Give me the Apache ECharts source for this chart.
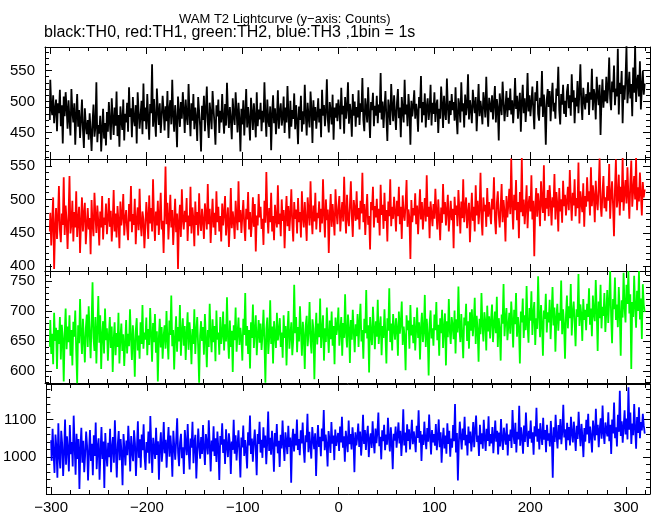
<!DOCTYPE html>
<html><head><meta charset="utf-8">
<script src="https://cdn.jsdelivr.net/npm/echarts@6/dist/echarts.min.js"></script>
<style>html,body{margin:0;padding:0;background:#fff}#c{width:652px;height:515px}</style>
</head><body><div id="c"></div>
<script>
// ---- data (1 bin = 1 s, first bin at t = -300 s) ----
const xStart = -300;
const titleText = "WAM T2 Lightcurve (y\u2212axis: Counts)";
const subText = "black:TH0, red:TH1, green:TH2, blue:TH3 ,1bin = 1s";
const seriesNames = ["TH0", "TH1", "TH2", "TH3"];
const th0 = [
470,535,492,478,510,465,488,503,452,497,481,519,460,494,432,508,476,515,489,456,
502,471,445,520,483,466,497,430,478,512,459,486,441,470,503,455,425,489,462,447,
470,438,481,452,420,466,495,443,459,531,434,462,448,477,419,456,488,440,465,429,
483,451,499,467,438,505,472,446,490,461,516,444,478,427,492,469,454,503,437,480,
466,498,451,523,475,489,442,507,471,460,494,432,515,483,456,478,501,447,529,468,
490,455,512,473,438,496,481,560,459,504,470,443,521,486,462,497,449,475,509,484,
453,492,468,517,441,488,502,463,535,477,451,494,470,426,508,483,459,499,472,515,
487,449,503,476,462,528,481,444,497,469,512,455,490,473,436,507,484,461,419,493,
470,509,452,486,524,467,441,498,479,455,517,488,463,430,494,476,503,449,485,466,
512,473,448,496,461,530,482,457,491,470,439,505,477,462,515,484,450,498,471,419,
488,463,502,445,479,520,458,491,469,437,506,482,454,497,473,442,515,460,487,471,
498,452,485,466,531,477,443,503,470,459,492,421,480,510,465,489,447,474,518,456,
483,497,461,474,508,449,490,466,525,478,440,501,459,486,472,513,455,494,468,431,
492,470,509,451,484,463,527,480,445,498,474,458,516,487,433,502,469,491,456,479,
505,466,488,442,519,477,494,460,483,536,471,450,499,485,463,511,438,490,474,497,
468,503,486,455,522,479,493,448,507,472,489,531,464,496,481,443,512,477,500,459,
491,474,518,462,497,483,538,470,452,505,488,466,523,479,441,499,486,514,460,493,
477,509,465,495,482,546,471,500,457,489,517,474,436,503,486,462,528,492,468,510,
481,454,498,520,473,490,442,507,485,466,535,479,495,460,512,487,430,501,476,493,
518,472,496,483,451,507,489,541,466,499,478,513,458,492,505,470,487,527,461,498,
480,515,467,494,503,449,488,472,524,496,457,509,483,470,537,491,464,501,478,512,
486,499,469,523,475,447,505,492,466,531,484,497,458,511,478,493,544,471,502,488,
465,519,496,481,507,452,490,528,476,501,486,463,515,497,474,540,489,459,506,492,
483,510,471,498,525,466,504,489,437,513,494,478,532,500,468,491,517,475,506,486,
521,479,502,465,494,538,488,509,472,496,514,451,499,527,481,505,467,493,546,484,
510,476,498,524,487,455,515,501,533,480,469,506,492,549,475,511,488,430,503,520,
491,517,468,505,530,484,498,472,521,509,556,486,463,512,495,527,480,501,475,516,
528,489,510,477,544,499,518,465,506,492,533,481,515,560,496,470,522,503,487,512,
498,531,478,515,503,553,486,520,509,471,540,512,494,527,446,505,536,490,518,500,
540,497,523,571,505,486,532,515,558,494,521,508,585,479,530,512,549,465,526,503,
536,589,497,520,548,505,528,476,555,514,590,499,531,543,508,565,487,524,550,511,
529];
const th1 = [
452,480,431,468,503,396,458,487,441,472,520,455,436,479,462,533,447,491,468,426,
474,535,449,463,498,437,481,458,512,444,470,489,420,466,503,452,478,495,433,461,
487,455,472,418,499,463,445,510,476,450,491,467,431,482,458,505,440,473,462,494,
448,470,502,459,483,437,466,514,452,479,443,490,468,427,497,461,475,508,446,471,
484,456,439,493,467,520,451,478,462,501,433,470,488,454,516,465,445,482,470,427,
459,496,473,441,506,464,487,452,530,471,438,482,461,498,447,475,510,455,468,420,
478,549,463,495,440,472,507,458,484,432,466,501,451,479,396,468,492,444,515,470,
455,483,466,502,438,476,460,519,449,488,471,430,497,462,481,446,509,467,453,486,
468,441,494,477,455,523,463,486,435,470,501,458,480,447,512,466,489,452,475,437,
494,461,479,505,446,470,488,429,463,517,457,482,468,441,498,472,454,527,466,484,
450,475,499,462,438,486,470,511,455,481,444,467,503,459,493,422,476,461,508,473,
489,456,471,432,498,465,541,478,449,487,466,510,452,475,439,492,470,458,521,463,
479,445,500,468,484,427,473,505,460,490,453,478,515,464,437,496,471,485,449,502,
466,481,443,512,474,458,496,469,438,503,482,461,527,475,448,491,467,510,455,480,
472,497,451,486,464,530,478,443,500,469,485,420,476,508,459,493,471,446,515,482,
463,489,505,452,478,496,467,534,481,449,507,472,460,491,527,475,444,499,485,468,
512,470,487,455,498,479,540,466,493,447,481,508,462,475,425,496,484,519,458,490,
473,501,465,486,446,522,477,492,456,510,468,484,437,497,475,530,460,489,471,504,
482,452,498,475,519,463,489,441,506,478,468,494,529,459,485,472,411,499,466,487,
476,509,463,491,448,483,515,470,496,455,481,502,467,536,474,489,442,497,479,460,
493,471,516,482,455,500,474,439,488,465,523,478,496,461,484,507,452,475,498,469,
486,427,504,477,491,460,514,483,449,497,472,530,466,488,503,457,480,495,436,475,
510,468,489,452,521,476,498,463,485,540,471,446,503,482,492,459,517,474,496,480,
463,501,485,533,470,448,494,512,477,458,489,523,466,499,481,437,505,473,492,516,
478,561,490,455,507,484,529,469,496,442,511,481,562,475,500,463,488,521,457,493,
505,482,536,470,498,415,489,517,474,509,491,460,527,495,480,551,468,502,486,514,
475,521,496,461,503,488,538,470,511,493,452,517,482,500,465,528,490,507,476,497,
519,484,544,500,468,510,491,530,475,502,487,555,464,512,496,481,524,459,505,489,
533,497,512,476,548,490,521,505,466,528,499,484,516,561,493,474,509,535,487,503,
482,520,498,553,471,507,527,492,445,515,560,488,502,537,476,519,496,562,483,511,
529,494,548,506,471,523,558,489,513,535,500,562,484,518,497,540,509,476,526,503,
515];
const th2 = [
640,685,628,662,611,697,650,672,603,668,645,690,619,677,655,582,661,704,636,674,
648,693,625,668,609,682,657,701,633,579,676,646,720,661,628,687,652,614,671,694,
640,708,664,621,679,748,655,633,690,612,668,725,647,693,603,660,683,629,704,651,
671,617,659,690,638,674,598,652,681,626,663,640,697,612,655,679,633,661,608,646,
685,629,662,641,703,655,618,676,649,590,667,688,634,659,620,681,645,710,637,664,
652,689,626,670,643,705,661,615,680,648,695,630,666,582,654,687,639,673,620,658,
676,637,700,652,619,684,660,726,641,668,602,655,691,632,673,649,710,625,664,688,
642,675,618,662,698,635,681,657,611,670,645,703,628,666,690,639,580,659,683,650,
673,627,695,654,606,668,640,712,660,631,686,648,675,616,701,652,664,627,690,645,
661,699,634,678,649,723,656,620,684,640,667,598,676,651,706,632,662,689,643,672,
654,617,687,660,730,642,675,628,668,604,681,655,711,638,667,693,626,659,685,647,
679,635,661,702,649,580,670,689,628,656,718,645,674,612,683,660,638,697,651,666,
688,640,664,622,693,655,675,609,668,700,637,660,681,626,652,744,663,690,631,673,
649,708,667,625,682,658,603,676,692,641,664,715,650,629,686,670,586,661,697,644,
679,656,721,638,668,693,617,671,648,706,662,630,684,653,699,642,675,611,689,660,
673,706,642,667,690,625,680,655,728,663,639,694,671,613,685,652,702,666,631,678,
658,695,640,681,712,649,668,620,687,663,735,654,676,597,690,661,643,707,672,636,
683,657,719,645,670,691,626,675,655,703,660,612,688,667,738,648,679,634,695,669,
652,688,671,625,699,662,680,716,643,674,656,601,693,668,684,637,710,659,677,646,
690,634,668,706,655,681,619,673,697,648,665,727,640,687,662,592,679,701,654,671,
642,694,668,715,651,677,625,688,663,702,638,672,696,609,683,656,720,667,645,690,
675,653,701,629,686,664,741,672,648,695,660,621,689,676,712,650,683,637,698,667,
703,658,680,722,645,692,669,615,687,661,730,676,649,698,683,634,709,666,691,654,
685,711,648,677,699,663,724,640,688,670,617,694,679,745,658,686,705,651,675,697,
662,716,684,639,702,678,730,657,690,672,612,699,681,721,655,693,668,742,676,647,
705,684,733,660,696,715,643,688,670,758,692,656,710,679,625,701,687,729,664,698,
681,719,653,694,740,676,706,632,689,712,667,697,684,751,661,703,678,620,693,726,
671,708,688,745,659,697,716,682,641,703,690,762,675,711,694,650,720,685,702,668,
712,690,738,677,704,658,726,695,683,752,701,633,716,688,744,671,707,692,730,665,
698,735,680,714,767,692,646,720,703,756,685,711,673,740,697,625,718,689,764,706,
681,744,712,767,696,728,603,715,690,759,707,672,734,700,767,686,721,653,745,710,
698];
const th3 = [
1045,990,1075,1010,958,1060,1025,945,1090,1003,970,1070,1035,950,1012,1100,980,1055,1020,962,
1085,1008,1040,975,1110,1030,953,1062,995,1048,915,1022,1078,985,1043,960,1007,1068,1030,938,
1015,1072,990,1035,952,1058,1003,1092,968,1027,1050,940,1012,1080,995,1041,918,1064,1009,975,
1038,1000,1075,960,1025,1053,985,1098,1017,946,1033,1069,992,1048,1010,925,1061,1022,978,1044,
1005,1083,1030,962,1056,1014,989,1071,1036,950,1023,1095,998,1047,972,1060,1018,1087,1001,966,
1040,1012,1068,983,1109,1027,958,1051,1021,995,1078,1006,1042,940,1031,1066,988,1024,1093,1010,
1046,972,1035,1080,1001,1057,1019,948,1070,1028,993,1045,1103,1011,976,1039,1062,997,1026,955,
1072,1034,1005,1088,1016,967,1049,1025,1094,984,1038,1059,943,1013,1076,1029,996,1053,1008,1085,
1022,979,1061,1037,1007,1098,1030,962,1044,1015,1082,1003,1050,987,1068,1024,939,1056,1033,1090,
1011,1047,982,1074,1028,1000,1063,1036,955,1041,1019,1099,1009,1058,991,1034,1071,1014,946,1052,
1026,1084,1003,1045,1017,970,1066,1031,1110,1008,1049,988,1038,1073,1022,952,1061,1035,1094,1012,
1046,998,1079,1025,1057,981,1039,1121,1016,1051,1006,1070,1032,961,1064,1028,1088,1010,1043,974,
1059,1023,1097,1034,990,1066,1041,1008,1083,1027,1052,932,1044,1075,1015,1062,1031,1100,1019,1048,
1005,1071,1036,1092,1024,985,1058,1040,1115,1013,1067,1029,996,1080,1047,1021,1063,950,1038,1085,
1027,1054,1002,1076,1042,1125,1018,1060,1033,975,1069,1045,1011,1093,1036,1057,992,1073,1030,1049,
1064,1016,1081,1039,1107,1025,1055,988,1070,1043,1013,1097,1034,1061,1020,1079,1048,960,1066,1031,
1052,1089,1027,1068,1004,1045,1112,1035,1072,1019,1058,1083,1000,1047,1063,1024,1095,1041,1010,1076,
1037,1066,1118,1029,1054,994,1071,1042,1086,1018,1060,1033,1104,1050,1015,1079,1039,968,1062,1044,
1081,1025,1058,1092,1036,1070,1003,1049,1127,1031,1065,1012,1087,1043,1074,1020,1056,1099,1034,1068,
1046,1013,1083,1051,1124,1038,1069,990,1060,1032,1094,1048,1021,1077,1041,1113,1055,1007,1072,1039,
1061,1030,1088,1018,1052,1100,1026,1066,985,1044,1078,1023,1057,1009,1090,1035,1070,1001,1049,1025,
1085,1042,1141,1012,1064,938,1038,1094,1053,1020,1076,1045,1107,1031,1059,1004,1081,1037,1068,1015,
1047,1093,1026,1072,1110,1040,1057,1003,1086,1034,1063,1022,1099,1051,1016,1075,1043,1108,1029,1061,
1036,1080,1010,1054,1097,1041,1070,1007,1065,1028,1101,1046,1019,1078,1052,1033,1089,1004,1060,1043,
1073,1024,1125,1058,1035,1091,1012,1067,1047,1136,1030,1079,1053,1009,1084,1040,1118,1061,1027,1070,
1049,1097,1038,1066,1006,1082,1055,1131,1041,1075,1020,1090,1058,1032,1104,1046,1072,1013,1086,1044,
1063,1028,1096,1051,945,1079,1040,1112,1057,1023,1085,1047,1101,1034,1068,1139,1052,1074,1018,1091,
1045,1080,1031,1107,1062,1039,1094,1056,1016,1083,1048,1120,1066,1029,1088,1052,1000,1077,1041,1099,
1060,1115,1037,1081,1053,1012,1097,1069,1044,1128,1058,1086,1026,1074,1103,1049,1137,1064,1035,1092,
1071,1055,1119,1042,1086,1008,1100,1063,1145,1050,1079,1028,1112,1067,1176,1056,1095,1038,1081,1124,
1060,1102,1047,1185,1073,1118,1035,1089,1058,1141,1077,1022,1106,1064,1132,1050,1093,1071,1115,1084,
1062];
const xMin = -305, xMax = 325;
const yMins = [407, 393, 579.5, 902];
const yMaxs = [588, 560.4, 767, 1194];

// ---- layout / style ----
const colors = ["#000000", "#ff0000", "#00ff00", "#0000ff"];
const allData = [th0, th1, th2, th3];
const tops = [47, 159, 271, 384];
const panelH = 112;
const FONT = "'Liberation Sans', Arial, Helvetica, sans-serif";

const chart = echarts.init(document.getElementById('c'), null, {renderer: 'canvas'});
const grids = [], xAxes = [], yAxes = [], series = [];
const tickCommon = (len) => ({show: true, inside: true, length: len, lineStyle: {color: '#000', width: 1}});
const minus = (v) => String(v).replace('-', '\u2212');
const plain = (v) => String(v);

for (let p = 0; p < 4; p++) {
  grids.push({left: 45, right: 2, top: tops[p], height: panelH, containLabel: false});
  const xBase = {
    type: 'value', gridIndex: p, min: xMin, max: xMax, splitNumber: 6,
    axisLine: {show: true, onZero: false, lineStyle: {color: '#000', width: 1}},
    axisTick: tickCommon(7),
    minorTick: {show: true, splitNumber: 5, length: 4, lineStyle: {color: '#000', width: 1}},
    splitLine: {show: false}, minorSplitLine: {show: false}
  };
  xAxes.push(Object.assign({}, xBase, {
    position: 'bottom',
    axisLabel: {show: p === 3, color: '#000', fontFamily: FONT, fontSize: 15, margin: 6,
      showMinLabel: false, showMaxLabel: false, formatter: minus}
  }));
  xAxes.push(Object.assign({}, xBase, {position: 'top', axisLabel: {show: false}}));
  const yBase = {
    type: 'value', gridIndex: p, min: yMins[p], max: yMaxs[p], splitNumber: 4,
    axisLine: {show: true, onZero: false, lineStyle: {color: '#000', width: 1}},
    axisTick: tickCommon(7),
    minorTick: {show: true, splitNumber: 5, length: 4, lineStyle: {color: '#000', width: 1}},
    splitLine: {show: false}, minorSplitLine: {show: false}
  };
  yAxes.push(Object.assign({}, yBase, {
    position: 'left',
    axisLabel: {show: true, color: '#000', fontFamily: FONT, fontSize: 15, margin: 10,
      showMinLabel: false, showMaxLabel: false, formatter: plain}
  }));
  yAxes.push(Object.assign({}, yBase, {position: 'right', axisLabel: {show: false}}));
  series.push({
    name: seriesNames[p], type: 'line', xAxisIndex: 2 * p, yAxisIndex: 2 * p,
    data: allData[p].map((v, i) => [xStart + i, v]),
    step: 'middle',
    showSymbol: false, symbol: 'none', sampling: null, clip: true,
    lineStyle: {color: colors[p], width: 1.8}, itemStyle: {color: colors[p]},
    animation: false, silent: true
  });
}

chart.setOption({
  animation: false,
  backgroundColor: '#fff',
  title: [
    {text: titleText, left: 174, top: 8, padding: 5, textStyle: {fontFamily: FONT, fontSize: 13, fontWeight: 'normal', color: '#000'}},
    {text: subText, left: 39, top: 20, padding: 5, textStyle: {fontFamily: FONT, fontSize: 16, fontWeight: 'normal', color: '#000'}}
  ],
  grid: grids, xAxis: xAxes, yAxis: yAxes, series: series
});
</script>
</body></html>
